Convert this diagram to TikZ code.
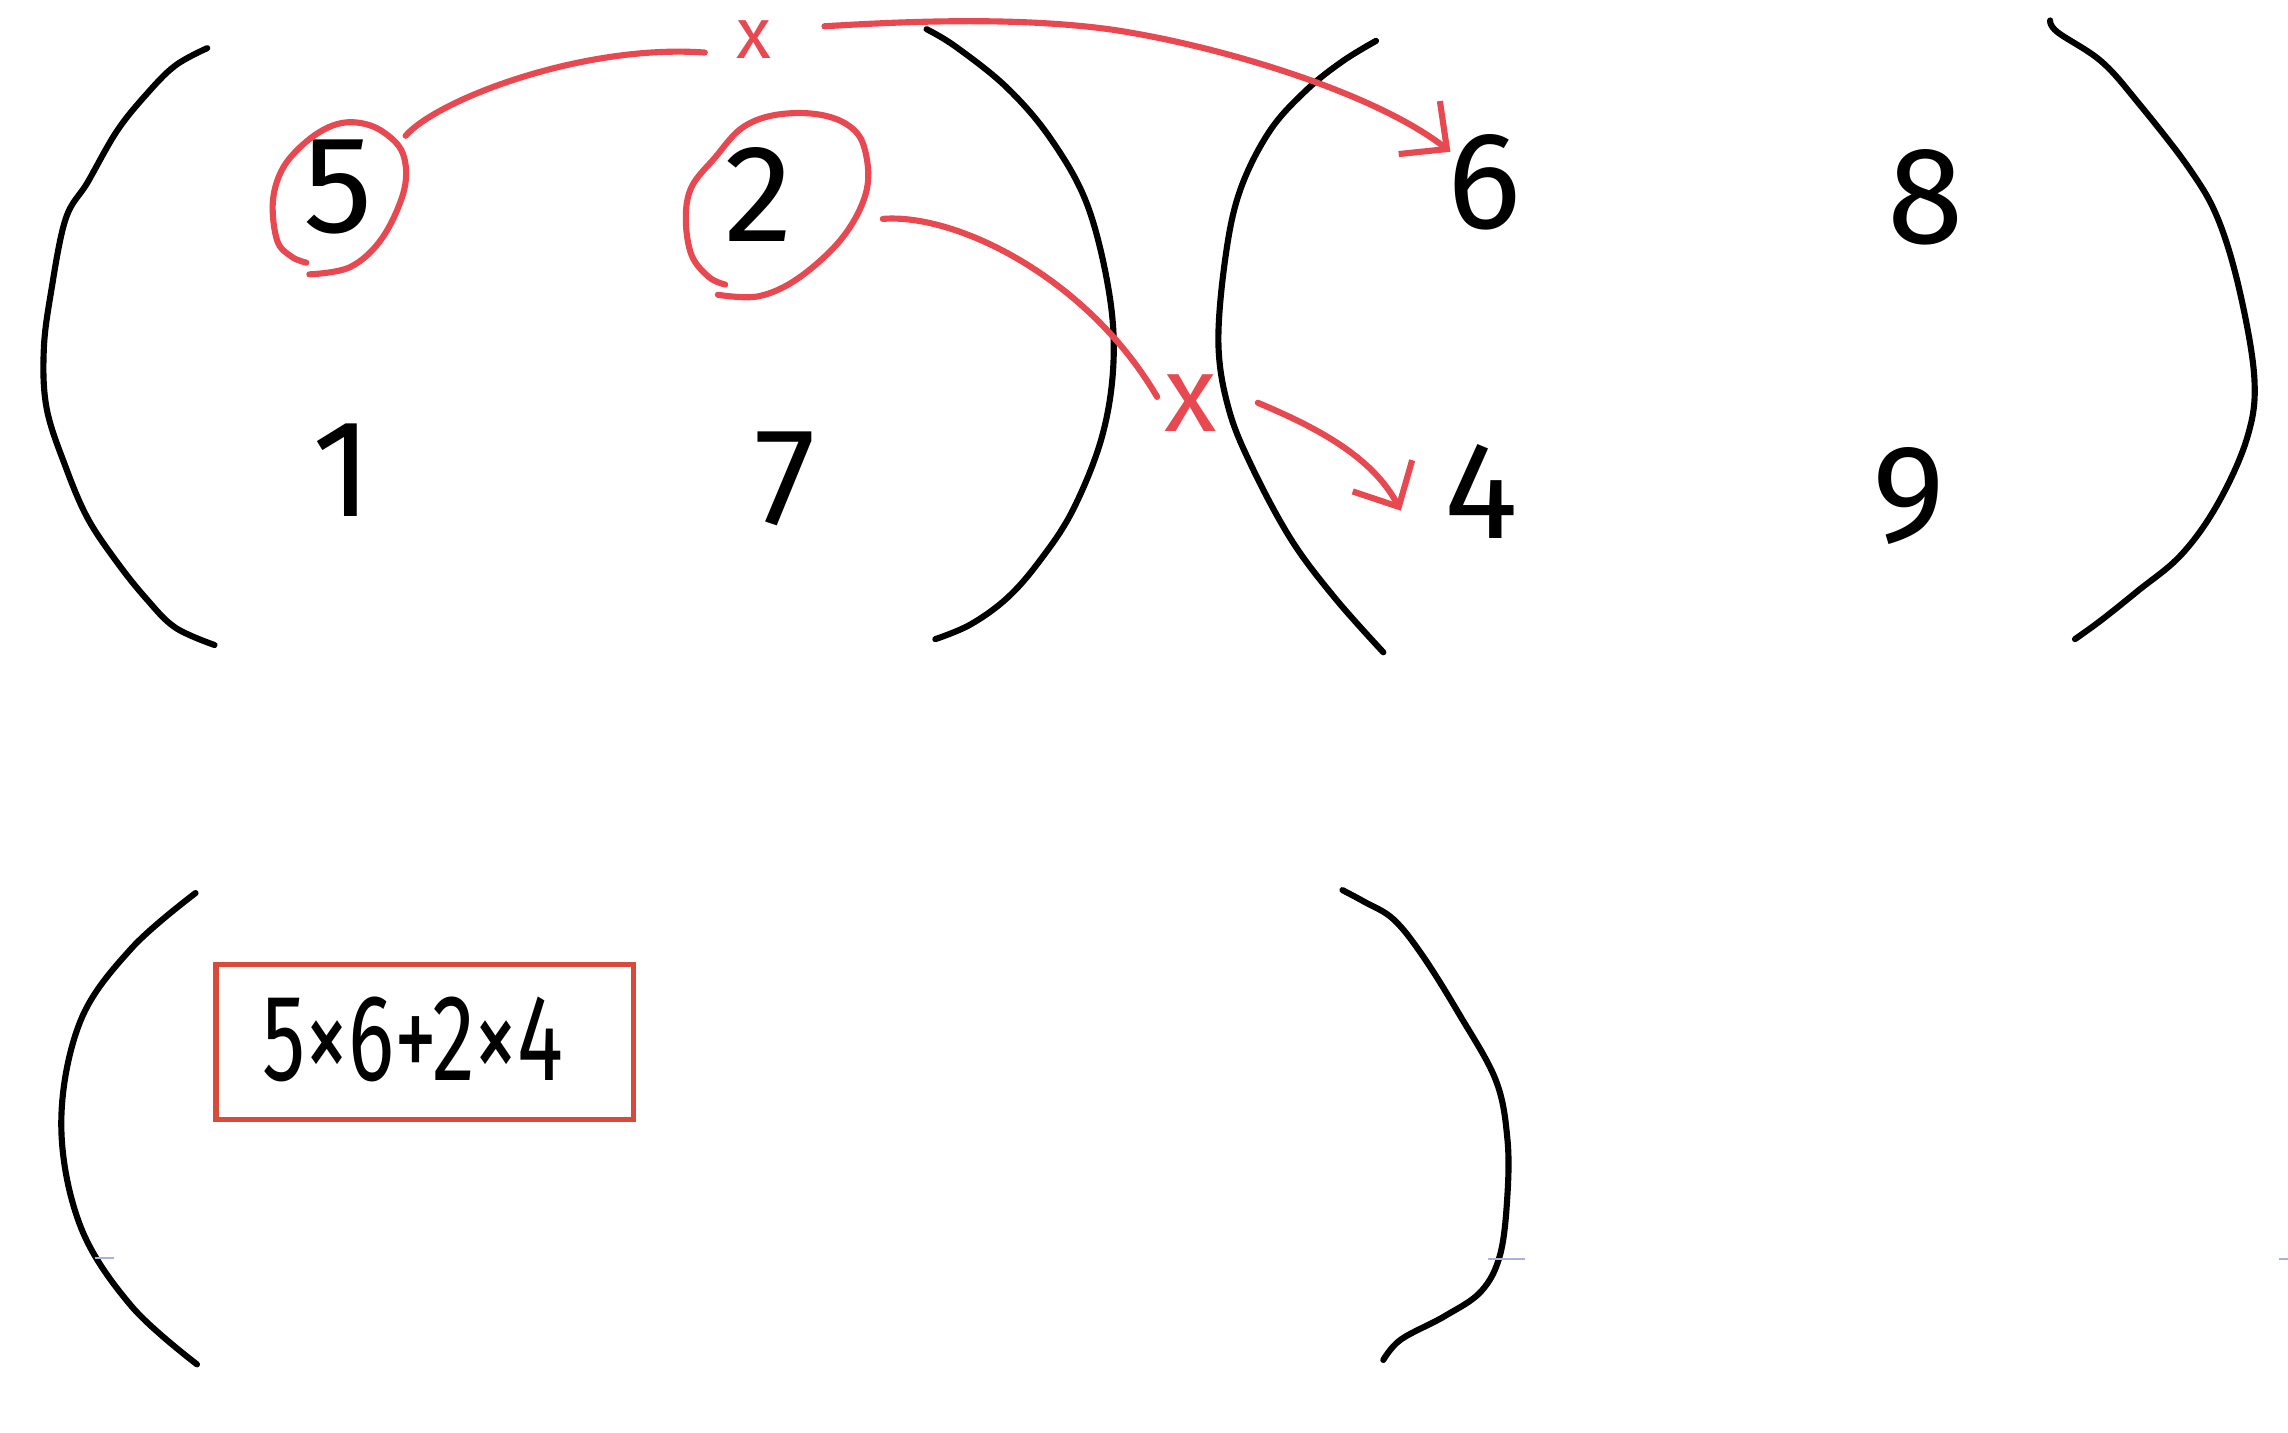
\documentclass[tikz,border=0pt]{standalone}
\usepackage{fontspec}
\usepackage{graphicx}
\usetikzlibrary{arrows.meta}
\newfontfamily\hand{Fira Sans}
\definecolor{inkred}{RGB}{232,72,80}
\definecolor{boxred}{RGB}{216,74,58}
\definecolor{faint}{RGB}{170,178,216}
\begin{document}
\begin{tikzpicture}[x=0.1mm,y=-0.1mm,
  ink/.style={line width=0.42mm, line cap=round, line join=round, draw=black},
  redink/.style={line width=0.42mm, line cap=round, line join=round, draw=inkred},
  barb/.style={-{Straight Barb[length=2.4mm,width=4.6mm]}},
  digit/.style={font=\hand\fontsize{27}{30}\selectfont, inner sep=0pt},
  redx/.style={font=\hand\fontsize{14}{16}\selectfont, text=inkred, inner sep=0pt},
  eqbox/.style={line width=0.36mm, draw=boxred}]
\useasboundingbox (0,0) rectangle (1568,982);

% ---- matrix A parentheses
\draw[ink] plot[smooth, tension=0.6] coordinates {(142,33) (120,45) (100,65) (80,90) (60,125) (45,150) (35,200) (30,240) (32,280) (45,320) (60,355) (80,385) (100,410) (120,430) (147,442)};
\draw[ink] plot[smooth, tension=0.6] coordinates {(635,20) (655,32) (690,60) (720,95) (745,140) (760,200) (763,250) (755,300) (735,350) (712,385) (690,410) (665,428) (641,438)};
% ---- matrix B parentheses
\draw[ink] plot[smooth, tension=0.6] coordinates {(943,28) (920,42) (895,62) (870,90) (850,130) (840,175) (835,235) (842,280) (858,320) (885,370) (915,410) (948,447)};
\draw[ink] plot[smooth, tension=0.6] coordinates {(1405,14) (1410,22) (1440,42) (1465,70) (1500,115) (1520,150) (1535,200) (1545,260) (1540,300) (1520,345) (1495,380) (1465,405) (1440,425) (1422,438)};
% ---- result parentheses
\draw[ink] plot[smooth, tension=0.6] coordinates {(134,612) (90,650) (55,700) (42,770) (55,840) (90,895) (135,935)};
\draw[ink] plot[smooth, tension=0.6] coordinates {(920,610) (935,618) (955,630) (975,655) (1000,695) (1025,740) (1033,780) (1033,820) (1028,860) (1015,885) (990,902) (960,918) (948,932)};

% ---- entries
\node[digit] (n5) at (232,128) {5};
\node[digit] (n2) at (520,133) {2};
\node[digit] (n1) at (235,322) {1};
\node[digit] (n7) at (538,328) {7};
\node[digit] (n6) at (1017,125) {6};
\node[digit] (n8) at (1320,135) {8};
\node[digit] (n4) at (1015,337) {4};
\node[digit] (n9) at (1308,340) {9};

% ---- red circles
\draw[redink] plot[smooth, tension=0.6] coordinates {(212,188) (240,183) (262,163) (277,130) (276,105) (262,90) (245,84) (228,86) (210,97) (194,115) (187,138) (190,165) (200,176) (210,180)};
\draw[redink] plot[smooth, tension=0.6] coordinates {(492,202) (520,203) (548,190) (578,162) (594,130) (592,100) (580,85) (558,78) (530,79) (508,88) (490,108) (474,128) (470,150) (474,175) (486,190) (497,195)};

% ---- red multiplication marks
\node[redx] (x1) at (517,27) {x};
\node[redx, font=\hand\fontsize{21}{24}\selectfont] (x2) at (816,276) {x};

% ---- connectors
\coordinate (a1s) at (278,93);
\coordinate (a1e) at (483,36);
\coordinate (b1s) at (565,18);
\coordinate (b1m) at (760,20);
\coordinate (tip6) at (994,104);
\coordinate (a2s) at (605,150);
\coordinate (a2e) at (793,272);
\coordinate (b2s) at (862,276);
\coordinate (tip4) at (960,350);

\draw[redink] (a1s) .. controls (300,68) and (400,30) .. (a1e);
\draw[redink, barb] (b1s) .. controls (630,14) and (700,12) .. (b1m) .. controls (830,30) and (940,62) .. (tip6);
\draw[redink] (a2s) .. controls (655,146) and (745,190) .. (a2e);
\draw[redink, barb] (b2s) .. controls (900,292) and (940,312) .. (tip4);

% ---- result box
\draw[eqbox] (148,661) rectangle (434,767);
\node[font=\hand\fontsize{24}{28}\selectfont, inner sep=0pt] (eq) at (283,712) {\scalebox{0.7}[1]{5×6+2×4}};

% ---- faint marks
\draw[faint, line width=0.15mm] (65,862) -- (78,862);
\draw[faint, line width=0.15mm] (1020,863) -- (1045,863);
\draw[faint, line width=0.15mm] (1562,863) -- (1568,863);
\end{tikzpicture}
\end{document}
